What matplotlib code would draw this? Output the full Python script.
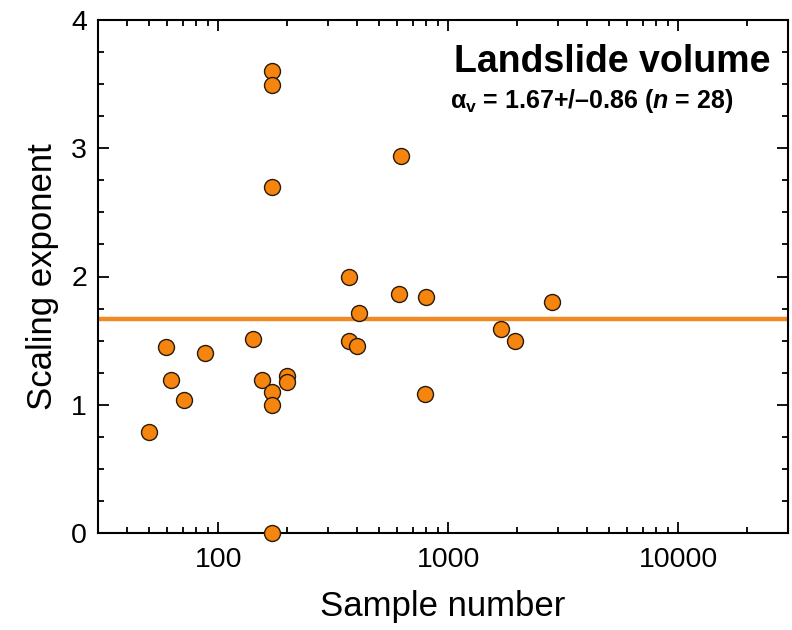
import matplotlib
matplotlib.use("Agg")
import matplotlib.pyplot as plt
from matplotlib.ticker import LogLocator, MultipleLocator, FixedLocator

plt.rcParams['font.family'] = ['Liberation Sans', 'DejaVu Sans']
plt.rcParams['mathtext.fontset'] = 'custom'
plt.rcParams['mathtext.rm'] = 'Liberation Sans:bold'
plt.rcParams['mathtext.it'] = 'Liberation Sans:italic:bold'
plt.rcParams['mathtext.bf'] = 'Liberation Sans:bold'

# Sample number vs scaling exponent
sample_number = [172, 172, 172, 620, 372, 612, 804, 410, 59.3, 87.5,
                 141, 372, 402, 62.4, 70.7, 155, 172, 172, 200, 200,
                 50.2, 172, 791, 1702, 1943, 2818]
scaling_exponent = [3.60, 3.49, 2.70, 2.94, 2.00, 1.865, 1.84, 1.716, 1.448, 1.404,
                    1.513, 1.495, 1.456, 1.195, 1.034, 1.195, 1.096, 0.995, 1.227, 1.18,
                    0.784, 0.0, 1.086, 1.594, 1.495, 1.80]
mean_exponent = 1.67

orange = "#F5850F"

fig = plt.figure(figsize=(7.92, 6.3), dpi=100)
ax = fig.add_axes([98 / 792, 1 - 533 / 630, 690 / 792, 513 / 630])

ax.axhline(mean_exponent, color="#F08A24", lw=3.2, zorder=2)
ax.plot(sample_number, scaling_exponent, "o", ms=11.5, mfc=orange,
        mec="#2a1a0a", mew=1.0, zorder=3, clip_on=False)

ax.set_xscale("log")
ax.set_xlim(30, 30000)
ax.set_ylim(0, 4)

ax.xaxis.set_major_locator(FixedLocator([100, 1000, 10000]))
ax.xaxis.set_major_formatter(plt.FuncFormatter(lambda v, p: f"{int(v)}"))
ax.xaxis.set_minor_locator(LogLocator(base=10, subs=range(2, 10), numticks=20))
ax.xaxis.set_minor_formatter(plt.NullFormatter())
ax.yaxis.set_major_locator(MultipleLocator(1))
ax.yaxis.set_minor_locator(MultipleLocator(0.25))

ax.tick_params(which="both", direction="in", top=True, right=True, width=1.3)
ax.tick_params(which="major", length=8, labelsize=20.5)
ax.tick_params(axis="x", which="major", pad=10)
ax.tick_params(axis="y", which="major", pad=8)
ax.tick_params(which="minor", length=4.5)
for s in ax.spines.values():
    s.set_linewidth(1.5)

ax.set_xlabel("Sample number", fontsize=25, labelpad=12)
ax.set_ylabel("Scaling exponent", fontsize=25, labelpad=9)

ax.text(0.975, 0.899, "Landslide volume", transform=ax.transAxes,
        ha="right", va="baseline", fontsize=27, fontweight="bold")
ax.text(0.51, 0.828, "α$_{\\rm v}$ = 1.67+/–0.86 ($n$ = 28)",
        transform=ax.transAxes, ha="left", va="baseline",
        fontsize=18, fontweight="bold")

fig.savefig("out.png", dpi=100)
